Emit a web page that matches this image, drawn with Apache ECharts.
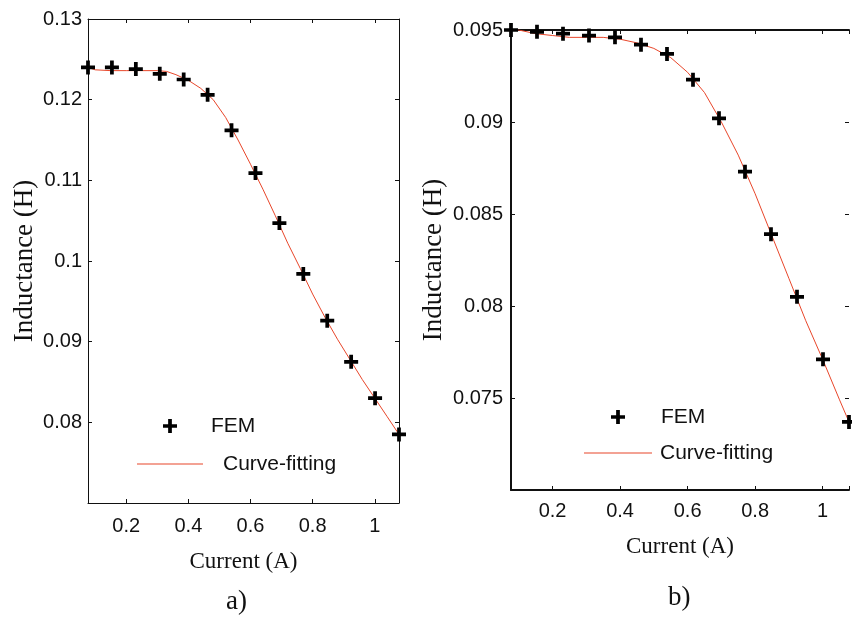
<!DOCTYPE html>
<html>
<head>
<meta charset="utf-8">
<script src="https://cdn.jsdelivr.net/npm/echarts@6/dist/echarts.min.js"></script>
<style>
html,body{margin:0;padding:0;background:#fff;}
#c{width:852px;height:619px;}
</style>
</head>
<body>
<div id="c"></div>
<script>
// ---- data ----
const currentA = [0.077, 0.154, 0.231, 0.308, 0.385, 0.462, 0.539, 0.616, 0.693, 0.770, 0.847, 0.924, 1.001, 1.078];
const femA = [0.1240, 0.1240, 0.1238, 0.1232, 0.1225, 0.1206, 0.1162, 0.1109, 0.1047, 0.0984, 0.0926, 0.0875, 0.0830, 0.0785];
const fitXA = [0.077, 0.10, 0.15, 0.20, 0.25, 0.30, 0.33, 0.36, 0.40, 0.44, 0.48, 0.52, 0.56, 0.60, 0.64, 0.68, 0.72, 0.76, 0.80, 0.84, 0.88, 0.92, 0.96, 1.00, 1.04, 1.078];
const fitYA = [0.1240, 0.1237, 0.1236, 0.1236, 0.1236, 0.1236, 0.1235, 0.1231, 0.1224, 0.1214, 0.1200, 0.1178, 0.1150, 0.1120, 0.1089, 0.1056, 0.1022, 0.0991, 0.0959, 0.0930, 0.0903, 0.0878, 0.0853, 0.0830, 0.0807, 0.0785];

const currentB = [0.077, 0.154, 0.231, 0.308, 0.385, 0.462, 0.539, 0.616, 0.693, 0.770, 0.847, 0.924, 1.001, 1.078];
const femB = [0.0950, 0.0949, 0.0948, 0.0947, 0.0946, 0.0942, 0.0937, 0.0923, 0.0902, 0.0873, 0.0839, 0.0805, 0.0771, 0.0737];
const fitXB = [0.077, 0.10, 0.15, 0.20, 0.25, 0.30, 0.35, 0.40, 0.45, 0.50, 0.55, 0.60, 0.65, 0.70, 0.75, 0.80, 0.85, 0.90, 0.95, 1.00, 1.05, 1.078];
const fitYB = [0.0950, 0.0950, 0.0948, 0.0947, 0.0946, 0.0946, 0.0946, 0.0945, 0.0943, 0.0940, 0.0935, 0.0927, 0.0916, 0.0900, 0.0882, 0.0861, 0.0838, 0.0815, 0.0792, 0.0771, 0.0749, 0.0737];

const yTicksA = {min: 0.07, max: 0.13, interval: 0.01};
const yTicksB = {min: 0.07, max: 0.095, interval: 0.005};
const xRange = {min: 0.077, max: 1.078};

const xTitle = 'Current (A)';
const yTitle = 'Inductance (H)';
const seriesNames = ['FEM', 'Curve-fitting'];
const panelLabels = ['a)', 'b)'];

// ---- styling ----
const sansFont = "'Liberation Sans', Arial, sans-serif";
const serifFont = "'Liberation Serif', 'Times New Roman', serif";
const red = '#e8462a';
const plusPath = 'path://M4.4,0H7.6V4.4H12V7.6H7.6V12H4.4V7.6H0V4.4H4.4Z';

function zip(a, b) { return a.map((v, i) => [v, b[i]]); }

function xLabelFmt(v) {
  const k = v / 0.2;
  if (Math.abs(k - Math.round(k)) > 1e-6) return '';
  return String(+v.toFixed(1));
}
function yLabelFmt(minV) {
  return function (v) {
    if (Math.abs(v - minV) < 1e-9) return '';
    return String(+v.toFixed(4));
  };
}

function makeX(gridIndex, pos, lw, show) {
  return {
    type: 'value', gridIndex: gridIndex, position: pos,
    min: xRange.min, max: xRange.max, splitNumber: 5,
    axisLine: {show: true, onZero: false, lineStyle: {color: '#111', width: lw}},
    axisTick: {show: true, inside: true, length: 4, lineStyle: {color: '#111', width: 1}},
    splitLine: {show: false},
    axisLabel: {show: show, formatter: xLabelFmt, color: '#111', fontFamily: sansFont, fontSize: 20, margin: gridIndex === 0 ? 13 : 11},
    name: show ? xTitle : '', nameLocation: 'middle',
    nameGap: gridIndex === 0 ? 47 : 45,
    nameTextStyle: {fontFamily: serifFont, fontSize: 23, color: '#111'}
  };
}
function makeY(gridIndex, pos, lw, show, ticks, lineShow) {
  return {
    type: 'value', gridIndex: gridIndex, position: pos,
    min: ticks.min, max: ticks.max, interval: ticks.interval,
    axisLine: {show: lineShow, onZero: false, lineStyle: {color: '#111', width: lw}},
    axisTick: {show: true, inside: true, length: 4, lineStyle: {color: '#111', width: 1}},
    splitLine: {show: false},
    axisLabel: {show: show, formatter: yLabelFmt(ticks.min), color: '#111', fontFamily: sansFont, fontSize: 20, margin: gridIndex === 0 ? 6 : 8},
    name: show ? yTitle : '', nameLocation: 'middle', nameRotate: 90,
    nameGap: gridIndex === 0 ? 50 : 64,
    nameTextStyle: {fontFamily: serifFont, fontSize: 27, color: '#111'}
  };
}

const chart = echarts.init(document.getElementById('c'), null, {renderer: 'canvas'});

const legendText = {fontFamily: sansFont, fontSize: 21, color: '#111', lineHeight: 26};

const option = {
  backgroundColor: '#fff',
  animation: false,
  grid: [
    {left: 88, top: 19, width: 311, height: 484},
    {left: 511, top: 30, width: 342, height: 460}
  ],
  xAxis: [
    makeX(0, 'bottom', 1, true),
    makeX(1, 'bottom', 2, true),
    makeX(0, 'top', 1, false),
    makeX(1, 'top', 2, false)
  ],
  yAxis: [
    makeY(0, 'left', 1, true, yTicksA, true),
    makeY(1, 'left', 2, true, yTicksB, true),
    makeY(0, 'right', 1, false, yTicksA, true),
    makeY(1, 'right', 2, false, yTicksB, false)
  ],
  legend: [
    {data: [seriesNames[0]], left: 163, top: 413, padding: 0, itemWidth: 14, itemHeight: 14, orient: 'vertical',
     selectedMode: false, textStyle: Object.assign({}, legendText, {padding: [0, 0, 0, 29]})},
    {data: [{name: seriesNames[1], icon: 'rect'}], left: 137, top: 451, padding: 0, itemWidth: 66, itemHeight: 1.2, orient: 'vertical',
     selectedMode: false, textStyle: Object.assign({}, legendText, {padding: [0, 0, 0, 15]})},
    {data: [seriesNames[0]], left: 611, top: 404, padding: 0, itemWidth: 14, itemHeight: 14, orient: 'vertical',
     selectedMode: false, textStyle: Object.assign({}, legendText, {padding: [0, 0, 0, 31]})},
    {data: [{name: seriesNames[1], icon: 'rect'}], left: 584, top: 440, padding: 0, itemWidth: 68, itemHeight: 1.2, orient: 'vertical',
     selectedMode: false, textStyle: Object.assign({}, legendText, {padding: [0, 0, 0, 3]})}
  ],
  series: [
    {name: seriesNames[1], type: 'line', xAxisIndex: 0, yAxisIndex: 0, data: zip(fitXA, fitYA),
     symbol: 'none', lineStyle: {color: red, width: 1}, itemStyle: {color: red}, z: 2},
    {name: seriesNames[0], type: 'scatter', xAxisIndex: 0, yAxisIndex: 0, data: zip(currentA, femA),
     symbol: plusPath, symbolSize: 14, itemStyle: {color: '#000', opacity: 1}, z: 3, clip: false},
    {name: seriesNames[1], type: 'line', xAxisIndex: 1, yAxisIndex: 1, data: zip(fitXB, fitYB),
     symbol: 'none', lineStyle: {color: red, width: 1}, itemStyle: {color: red}, z: 2},
    {name: seriesNames[0], type: 'scatter', xAxisIndex: 1, yAxisIndex: 1, data: zip(currentB, femB),
     symbol: plusPath, symbolSize: 14, itemStyle: {color: '#000', opacity: 1}, z: 3, clip: false}
  ],
  graphic: [
    {type: 'text', left: 226, top: 588, style: {text: panelLabels[0], font: "27px " + serifFont, fill: '#111'}},
    {type: 'text', left: 668, top: 584, style: {text: panelLabels[1], font: "27px " + serifFont, fill: '#111'}}
  ]
};
chart.setOption(option);
</script>
</body>
</html>
